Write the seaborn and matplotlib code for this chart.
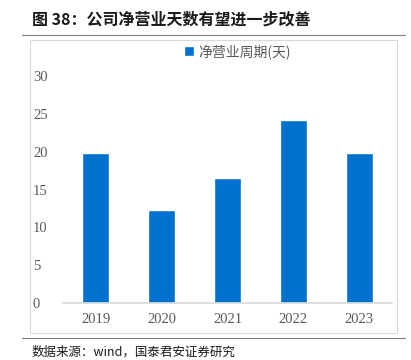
import pandas as pd
import seaborn as sns
import matplotlib.pyplot as plt
from matplotlib.patches import Rectangle
from matplotlib.lines import Line2D

years = ['2019', '2020', '2021', '2022', '2023']
days = [19.8, 12.3, 16.5, 24.2, 19.8]
series_name = '净营业周期(天)'

df = pd.DataFrame({'year': years, 'days': days})

sns.set_theme(style='white')
plt.rcParams['font.family'] = ['Noto Sans CJK SC', 'DejaVu Sans']

fig = plt.figure(figsize=(4.11, 3.6), dpi=100)
ax = fig.add_axes([0.153, 0.158, 0.801, 0.631])

sns.barplot(data=df, x='year', y='days', color='#0072CE', width=0.41,
            saturation=1, ax=ax, label=series_name)

ax.set_ylim(0, 30)
ax.set_yticks(range(0, 31, 5))
ax.set_xlabel('')
ax.set_ylabel('')
for s in ['top', 'right', 'left']:
    ax.spines[s].set_visible(False)
ax.spines['bottom'].set_color('#d9d9d9')
ax.tick_params(axis='both', length=0, colors='#595959', labelsize=10.5)
ax.tick_params(axis='y', pad=21.6)
ax.tick_params(axis='x', pad=7)
for lab in ax.get_xticklabels() + ax.get_yticklabels():
    lab.set_fontfamily('Liberation Serif')
for lab in ax.get_yticklabels():
    lab.set_horizontalalignment('left')

leg = ax.legend(loc='lower center', bbox_to_anchor=(0.53, 1.02), frameon=False,
                fontsize=10, handlelength=0.7, handleheight=0.7, handletextpad=0.3)
for t in leg.get_texts():
    t.set_color('#595959')

# chart frame and title rules
fig.patches.append(Rectangle((30 / 411, 1 - 333 / 360), 367 / 411, 293 / 360,
                             transform=fig.transFigure, fill=False,
                             edgecolor='#d9d9d9', linewidth=0.8))
fig.lines.append(Line2D([22 / 411, 405 / 411], [1 - 35 / 360, 1 - 35 / 360],
                        transform=fig.transFigure, color='#7f7f7f', linewidth=0.8))
fig.lines.append(Line2D([22 / 411, 405 / 411], [1 - 338 / 360, 1 - 338 / 360],
                        transform=fig.transFigure, color='#7f7f7f', linewidth=0.8))

fig.text(32 / 411, 1 - 20 / 360, '图 38：公司净营业天数有望进一步改善', fontsize=11.5,
         fontweight='bold', va='center', ha='left', color='#1a1a1a')
fig.text(32 / 411, 1 - 352 / 360, '数据来源：wind，国泰君安证券研究', fontsize=9,
         va='center', ha='left', color='#1a1a1a')

fig.savefig('out.png', dpi=100)
